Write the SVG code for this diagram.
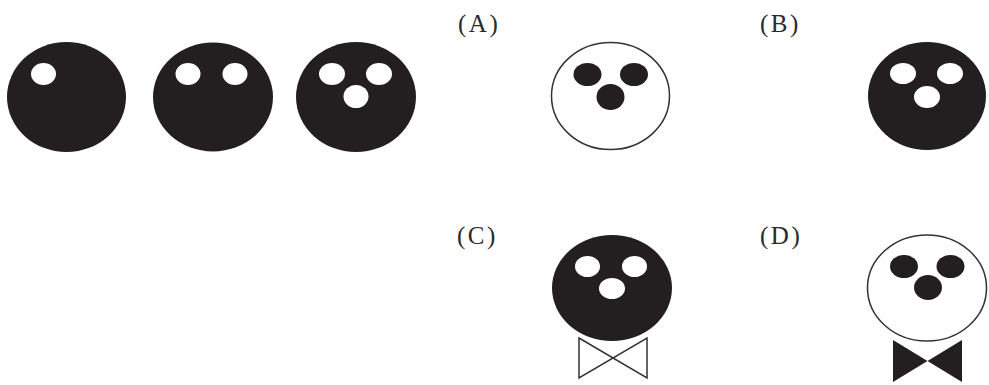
<svg xmlns="http://www.w3.org/2000/svg" width="989" height="385" viewBox="0 0 989 385">
<style>
.lbl{font-family:"Liberation Serif","Times New Roman",serif;font-size:25px;fill:#2a2a2a;letter-spacing:2.5px}
.dark{fill:#231f20}
.hole{fill:#fff}
.ring{fill:#fff;stroke:#333;stroke-width:1.5}
.tie{fill:#fff;stroke:#333;stroke-width:1.5;stroke-linejoin:miter}
</style>
<rect width="989" height="385" fill="#fff"/>
<g id="seq1">
<ellipse class="dark" cx="66.5" cy="97" rx="59.5" ry="55"/>
<ellipse class="hole" cx="43.5" cy="74" rx="12.5" ry="11"/>
</g>
<g id="seq2">
<ellipse class="dark" cx="213" cy="97" rx="60" ry="54.5"/>
<ellipse class="hole" cx="188" cy="74" rx="12.5" ry="11"/>
<ellipse class="hole" cx="235" cy="74" rx="12.5" ry="11"/>
</g>
<g id="seq3">
<ellipse class="dark" cx="356" cy="97" rx="60" ry="55"/>
<ellipse class="hole" cx="332" cy="74" rx="13" ry="11"/>
<ellipse class="hole" cx="379" cy="74" rx="13" ry="11"/>
<ellipse class="hole" cx="356" cy="96.5" rx="12.5" ry="11.5"/>
</g>
<g id="optA">
<text class="lbl" x="458" y="32">(A)</text>
<ellipse class="ring" cx="610.5" cy="96" rx="59" ry="53.5"/>
<ellipse class="dark" cx="587.5" cy="74.5" rx="14" ry="11.5"/>
<ellipse class="dark" cx="634" cy="74.5" rx="14" ry="11.5"/>
<ellipse class="dark" cx="610.5" cy="97" rx="14" ry="13"/>
</g>
<g id="optB">
<text class="lbl" x="760" y="32">(B)</text>
<ellipse class="dark" cx="927" cy="96" rx="59" ry="54"/>
<ellipse class="hole" cx="903" cy="73.5" rx="13" ry="10.5"/>
<ellipse class="hole" cx="950" cy="73.5" rx="13" ry="10.5"/>
<ellipse class="hole" cx="927" cy="97" rx="13" ry="11"/>
</g>
<g id="optC">
<text class="lbl" x="457" y="244">(C)</text>
<ellipse class="dark" cx="612" cy="288" rx="60" ry="53"/>
<ellipse class="hole" cx="587.5" cy="266.5" rx="12.5" ry="10.5"/>
<ellipse class="hole" cx="634.5" cy="266.5" rx="12.5" ry="10.5"/>
<ellipse class="hole" cx="612" cy="288.5" rx="13" ry="10.5"/>
<path class="tie" d="M579,338 L647,378 L647,338 L579,378 Z"/>
</g>
<g id="optD">
<text class="lbl" x="760" y="244">(D)</text>
<ellipse class="ring" cx="927" cy="288" rx="59.5" ry="53"/>
<ellipse class="dark" cx="904" cy="266.5" rx="14" ry="11.5"/>
<ellipse class="dark" cx="950.5" cy="266.5" rx="14" ry="11.5"/>
<ellipse class="dark" cx="928" cy="287.5" rx="14" ry="12.5"/>
<polygon class="dark" points="893,340 927.5,361 962,340 962,382 927.5,361 893,382"/>
</g>
<g id="connectors"></g>
</svg>
